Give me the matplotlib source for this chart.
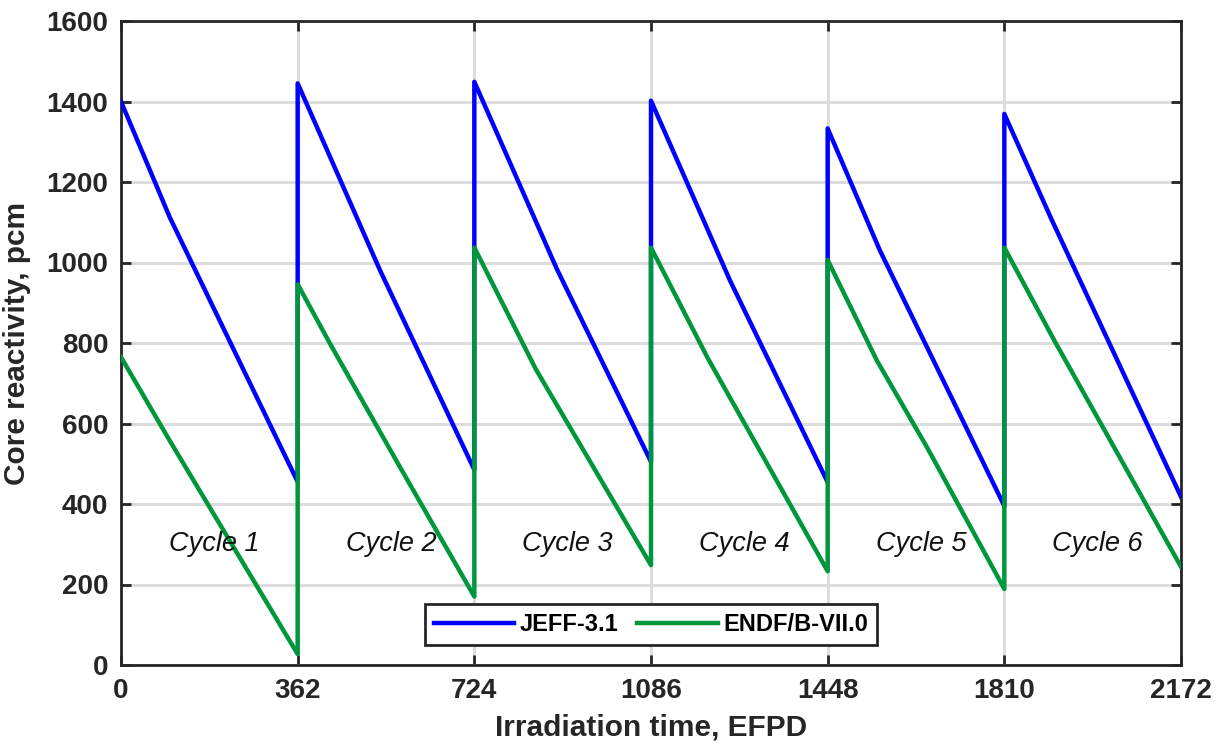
import numpy as np
import matplotlib
matplotlib.use('Agg')
from matplotlib import pyplot as plt

# Данные: точки по циклам, EFPD / pcm
days_jeff = [0, 100, 362,
             362, 531, 724,
             724, 893, 1086,
             1086, 1248, 1448,
             1448, 1555, 1810,
             1810, 1906, 2172]
rho_jeff = [1400, 1112, 455,
            1445, 980, 485,
            1449, 984, 505,
            1402, 955, 454,
            1333, 1030, 395,
            1369, 1109, 418]

days_endf = [0, 100, 362,
             362, 428, 572, 724,
             724, 850, 1086,
             1086, 1202, 1448,
             1448, 1549, 1652, 1810,
             1810, 1913, 2172]
rho_endf = [765, 557, 27,
            946, 799, 491, 170,
            1037, 735, 248,
            1037, 763, 233,
            1006, 756, 540, 189,
            1037, 805, 244]

x_ticks = [0, 362, 724, 1086, 1448, 1810, 2172]
y_ticks = [0, 200, 400, 600, 800, 1000, 1200, 1400, 1600]
cycle_labels = ['Cycle 1', 'Cycle 2', 'Cycle 3', 'Cycle 4', 'Cycle 5', 'Cycle 6']

plt.rcParams['font.family'] = ['Liberation Sans', 'DejaVu Sans']

fig = plt.figure(figsize=(12.18, 7.55), dpi=100, facecolor='white')
ax = fig.add_axes([121 / 1218, 90 / 755, 1060 / 1218, 644 / 755])

ax.plot(days_jeff, rho_jeff, color='#0000ff', lw=3.2, label='JEFF-3.1', zorder=3)
ax.plot(days_endf, rho_endf, color='#00963c', lw=3.2, label='ENDF/B-VII.0', zorder=4)

# Подписи циклов
for i, name in enumerate(cycle_labels):
    xc = x_ticks[i] + (x_ticks[i + 1] - x_ticks[i]) / 2 + 10
    ax.text(xc, 300, name, ha='center', va='center', fontsize=19.5,
            style='italic', color='#111111', zorder=5)

ax.set_xlim(0, 2172)
ax.set_ylim(0, 1600)
ax.set_xticks(x_ticks)
ax.set_yticks(y_ticks)
ax.grid(True, color='#dcdcdc', lw=2.2, zorder=0)
ax.set_axisbelow(True)

ax.tick_params(direction='in', length=7, width=2, top=True, right=True,
               colors='#262626', labelsize=20, pad=9)
for lab in ax.get_xticklabels() + ax.get_yticklabels():
    lab.set_fontweight('bold')
for sp in ax.spines.values():
    sp.set_linewidth(2)
    sp.set_color('#262626')

ax.set_xlabel('Irradiation time, EFPD', fontsize=21.5, fontweight='bold', color='#262626', labelpad=7)
ax.set_ylabel('Core reactivity, pcm', fontsize=21.5, fontweight='bold', color='#262626', labelpad=11)

leg = ax.legend(loc='lower center', bbox_to_anchor=(0.5, 0.031), ncol=2,
                prop={'weight': 'bold', 'size': 17},
                frameon=True, fancybox=False, framealpha=1, edgecolor='#262626',
                handlelength=3.4, handletextpad=0.25, columnspacing=0.8,
                borderpad=0.38, borderaxespad=0)
leg.get_frame().set_linewidth(2)
leg.set_zorder(6)

plt.savefig('out.png', dpi=100, facecolor='white')
plt.close()
